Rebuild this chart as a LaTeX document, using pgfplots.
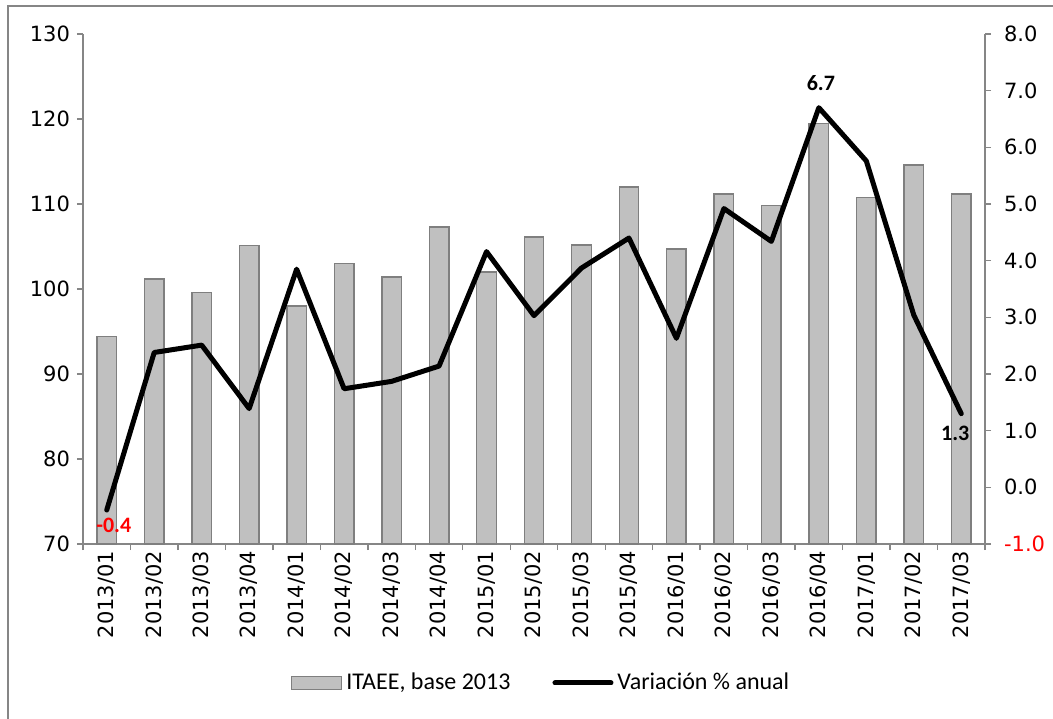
\documentclass[border=0pt]{standalone}
\usepackage{pgfplots}
\pgfplotsset{compat=1.18}
\usepackage{fontspec}
\setmainfont{Carlito}
\newfontfamily\dejavu{DejaVu Sans}
\newcommand\tickfont{\dejavu\fontsize{10.5}{12.5}\selectfont}
\definecolor{barfill}{HTML}{C0C0C0}
\definecolor{baredge}{HTML}{7F7F7F}
\definecolor{axgray}{HTML}{868686}

\pgfplotsset{
  common/.style={
    width=451pt, height=255pt, scale only axis,
    xmin=-0.5, xmax=18.5,
    axis line style={axgray, line width=0.7pt},
    tick style={axgray, line width=0.7pt},
    tick align=outside, major tick length=3pt,
    /pgf/number format/assume math mode=true,
  },
}

\begin{document}
\begin{tikzpicture}
\useasboundingbox (-41.5pt,-87pt) rectangle (485pt,272pt);
\draw[axgray, line width=0.8pt] (-37.5pt,-95pt) -- (-37.5pt,269pt) -- (495pt,269pt);

% index, left axis
\begin{axis}[common,
  axis y line*=left, axis x line*=bottom,
  ymin=70, ymax=130, ytick={70,80,...,130},
  yticklabel style={font=\tickfont},
  xtick={-0.5,0.5,...,18.5}, xticklabels={},
  extra x ticks={0,1,...,18},
  extra x tick labels={2013/01,2013/02,2013/03,2013/04,2014/01,2014/02,2014/03,2014/04,2015/01,2015/02,2015/03,2015/04,2016/01,2016/02,2016/03,2016/04,2017/01,2017/02,2017/03},
  extra x tick style={major tick length=0pt, xticklabel style={font=\tickfont, rotate=90, anchor=east}},
]
\addplot[ybar, bar width=9.75pt, fill=barfill, draw=baredge, line width=0.7pt] coordinates {
  (0,94.4) (1,101.2) (2,99.6) (3,105.1) (4,98.0) (5,103.0) (6,101.4) (7,107.3) (8,102.0)
  (9,106.1) (10,105.2) (11,112.0) (12,104.7) (13,111.2) (14,109.8) (15,119.5) (16,110.8)
  (17,114.6) (18,111.2)
};
\end{axis}

% annual change, right axis
\begin{axis}[common,
  axis y line*=right, axis x line=none, clip=false,
  ymin=-1, ymax=8, ytick={-1,0,...,8},
  yticklabels={\textcolor{red}{-1.0},0.0,1.0,2.0,3.0,4.0,5.0,6.0,7.0,8.0},
  yticklabel style={font=\tickfont, xshift=3pt},
  legend style={at={(0.509,-0.2725)}, anchor=center, draw=none, fill=none,
    legend columns=2, font=\fontsize{12}{14}\selectfont,
    /tikz/every even column/.append style={column sep=19pt}},
  legend cell align=left,
]
\addlegendimage{legend image code/.code={\draw[fill=barfill, draw=baredge, line width=0.7pt] (0pt,-3.25pt) rectangle (25pt,3.25pt);}}
\addlegendentry{ITAEE, base 2013}
\addplot[black, line width=2.5pt, line join=round, line cap=round, no marks,
  legend image code/.code={\draw[black, line width=2.5pt, line cap=round] (0pt,0pt) -- (28pt,0pt);}] coordinates {
  (0,-0.4) (1,2.38) (2,2.51) (3,1.39) (4,3.85) (5,1.74) (6,1.87) (7,2.14) (8,4.16)
  (9,3.03) (10,3.87) (11,4.40) (12,2.63) (13,4.92) (14,4.34) (15,6.7) (16,5.76)
  (17,3.04) (18,1.3)
};
\addlegendentry{Variación \% anual}

\addplot[draw=none, no marks, forget plot, nodes near coords, point meta=explicit symbolic,
  nodes near coords style={font=\bfseries\fontsize{11}{13}\selectfont, text=red, anchor=center, xshift=3.5pt, yshift=-7.5pt}]
  coordinates {(0,-0.4) [-0.4]};
\addplot[draw=none, no marks, forget plot, nodes near coords, point meta=explicit symbolic,
  nodes near coords style={font=\bfseries\fontsize{11}{13}\selectfont, anchor=center, xshift=1pt, yshift=12.5pt}]
  coordinates {(15,6.7) [6.7]};
\addplot[draw=none, no marks, forget plot, nodes near coords, point meta=explicit symbolic,
  nodes near coords style={font=\bfseries\fontsize{11}{13}\selectfont, anchor=center, xshift=-3pt, yshift=-10pt}]
  coordinates {(18,1.3) [1.3]};
\end{axis}
\end{tikzpicture}
\end{document}
